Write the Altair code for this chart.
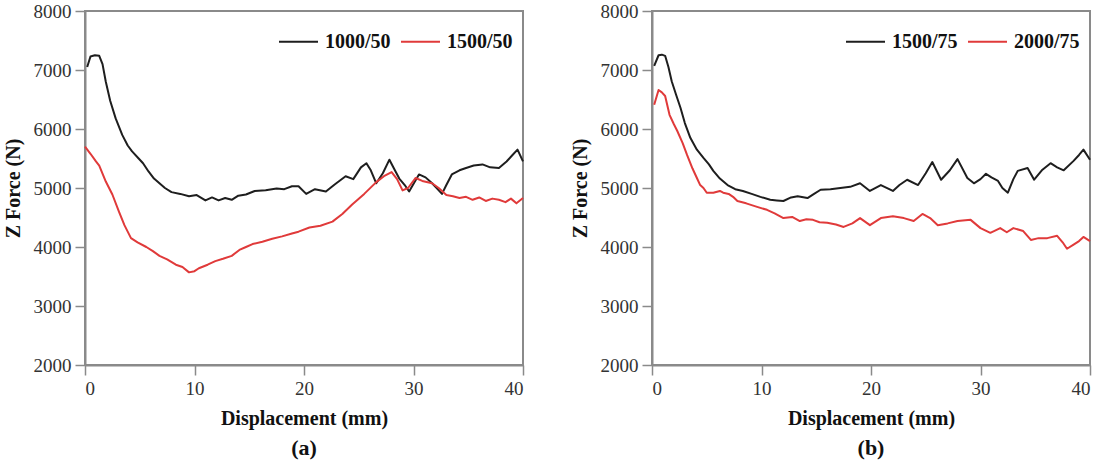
import altair as alt
import pandas as pd

# Panel (a): 1000/50 and 1500/50
a_names = ["1000/50", "1500/50"]
a1_d = [0.2, 0.5, 0.9, 1.3, 1.6,
        1.9, 2.3, 2.8, 3.4, 3.9,
        4.3, 4.9, 5.3, 5.8, 6.3,
        6.8, 7.3, 7.9, 8.7, 9.5,
        10.2, 11.0, 11.6, 12.2, 12.8,
        13.4, 14.0, 14.7, 15.5, 16.5,
        17.5, 18.2, 18.9, 19.5, 20.2,
        21.0, 22.0, 22.8, 23.8, 24.5,
        25.2, 25.7, 26.1, 26.6, 27.2,
        27.8, 28.3, 28.7, 29.2, 29.6,
        30.1, 30.5, 31.1, 31.7, 32.2,
        32.6, 33.0, 33.5, 34.2, 34.8,
        35.5, 36.3, 37.0, 37.8, 38.5,
        39.0, 39.5, 40.0]
a1_f = [7050, 7230, 7250, 7240, 7100,
        6800, 6480, 6180, 5900, 5720,
        5620, 5500, 5420, 5280, 5160,
        5080, 5000, 4930, 4900, 4860,
        4880, 4790, 4840, 4790, 4830,
        4800, 4870, 4890, 4950, 4960,
        4990, 4980, 5030, 5030, 4900,
        4980, 4940, 5060, 5200, 5150,
        5350, 5420, 5300, 5080, 5250,
        5480, 5300, 5160, 5050, 4940,
        5100, 5230, 5180, 5080, 4980,
        4900, 5050, 5230, 5300, 5340,
        5380, 5400, 5350, 5340, 5450,
        5550, 5650, 5450]
a2_d = [0.0, 0.5, 1.0, 1.3, 1.9,
        2.5, 3.1, 3.6, 4.2, 4.8,
        5.6, 6.2, 6.8, 7.5, 8.3,
        8.9, 9.5, 10.0, 10.4, 11.2,
        11.9, 12.6, 13.4, 14.1, 14.7,
        15.3, 16.2, 17.1, 18.0, 18.9,
        19.5, 20.5, 21.5, 22.6, 23.5,
        24.4, 25.5, 26.6, 27.3, 28.0,
        28.5, 29.0, 29.5, 30.2, 30.8,
        31.7, 32.3, 33.0, 33.6, 34.2,
        34.8, 35.4, 36.0, 36.6, 37.2,
        37.8, 38.4, 38.9, 39.4, 40.0]
a2_f = [5700, 5580, 5450, 5380, 5110,
        4890, 4600, 4370, 4150, 4080,
        4000, 3930, 3850, 3790, 3700,
        3660, 3570, 3590, 3640, 3700,
        3760, 3800, 3850, 3950, 4000,
        4050, 4090, 4140, 4180, 4230,
        4260, 4330, 4360, 4430, 4560,
        4720, 4900, 5100, 5200, 5270,
        5150, 4960, 5000, 5170, 5120,
        5080, 5000, 4880, 4860, 4830,
        4850, 4800, 4840, 4780, 4820,
        4800, 4760, 4820, 4740, 4830]

# Panel (b): 1500/75 and 2000/75
b_names = ["1500/75", "2000/75"]
b1_d = [0.2, 0.6, 0.9, 1.2, 1.5,
        1.8, 2.2, 2.6, 3.0, 3.5,
        4.1, 4.7, 5.2, 5.6, 6.2,
        6.9, 7.6, 8.3, 9.1, 9.9,
        10.8, 11.4, 12.0, 12.7, 13.3,
        14.2, 14.8, 15.4, 16.3, 17.2,
        18.1, 19.0, 19.9, 20.9, 22.0,
        22.6, 23.3, 24.3, 25.0, 25.6,
        26.4, 27.2, 27.9, 28.8, 29.4,
        30.0, 30.5, 31.0, 31.6, 32.0,
        32.5, 33.0, 33.4, 34.3, 34.9,
        35.6, 36.4, 37.0, 37.6, 38.5,
        39.0, 39.4, 40.0]
b1_f = [7070, 7250, 7260, 7240, 7050,
        6810, 6580, 6360, 6100, 5850,
        5650, 5510, 5400, 5290, 5160,
        5050, 4980, 4950, 4900, 4850,
        4800, 4790, 4780, 4840, 4860,
        4830, 4900, 4970, 4980, 5000,
        5020, 5080, 4950, 5050, 4950,
        5050, 5140, 5050, 5250, 5440,
        5140, 5300, 5490, 5170, 5080,
        5150, 5240, 5180, 5120, 5000,
        4920, 5150, 5290, 5340, 5140,
        5300, 5420, 5350, 5300, 5460,
        5560, 5650, 5480]
b2_d = [0.2, 0.6, 0.9, 1.2, 1.6,
        2.0, 2.3, 2.8, 3.2, 3.7,
        4.1, 4.4, 4.7, 5.0, 5.6,
        6.2, 6.5, 7.0, 7.4, 7.8,
        8.6, 9.6, 10.5, 11.2, 12.0,
        12.8, 13.5, 14.1, 14.7, 15.3,
        16.0, 16.8, 17.5, 18.3, 19.0,
        19.9, 20.9, 22.0, 23.0, 23.9,
        24.7, 25.4, 26.1, 27.0, 27.9,
        29.1, 30.0, 30.9, 31.8, 32.4,
        33.0, 33.9, 34.6, 35.3, 36.1,
        37.0, 37.5, 37.9, 38.5, 39.0,
        39.4, 40.0]
b2_f = [6410, 6660, 6620, 6560, 6240,
        6080, 5970, 5760, 5560, 5330,
        5170, 5050, 5000, 4920, 4920,
        4950, 4920, 4900, 4850, 4780,
        4740, 4680, 4630, 4570, 4490,
        4510, 4440, 4470, 4460, 4420,
        4410, 4380, 4340, 4400, 4490,
        4370, 4490, 4520, 4490, 4440,
        4560, 4490, 4370, 4400, 4440,
        4460, 4320, 4240, 4320, 4250,
        4320, 4270, 4120, 4150, 4150,
        4190, 4080, 3970, 4040, 4100,
        4170, 4100]

x_ticks = [0, 10, 20, 30, 40]
y_ticks = [2000, 3000, 4000, 5000, 6000, 7000, 8000]

SERIF = "Liberation Serif"
GRAY = "#8a8a8a"
LINE_COLORS = ["#1e1e1e", "#e03a3a"]


def frame(names, series):
    rows = []
    for name, (ds, fs) in zip(names, series):
        rows += [{"d": d, "F": f, "series": name} for d, f in zip(ds, fs)]
    return pd.DataFrame(rows)


def panel(df, names, caption):
    axis_common = dict(
        labelFont=SERIF, labelFontSize=19, labelColor="#333333",
        titleFont=SERIF, titleFontSize=20, titleFontWeight="bold",
        titleColor="#111111", domainColor=GRAY, domainWidth=2,
        tickColor=GRAY, tickWidth=1.5, tickSize=10, grid=False,
        labelPadding=4, titlePadding=10,
    )
    return alt.Chart(df).mark_line(strokeWidth=2, strokeJoin="round").encode(
        x=alt.X("d:Q",
                scale=alt.Scale(domain=[0, 40], nice=False),
                axis=alt.Axis(values=x_ticks, format="d",
                              title="Displacement (mm)", **axis_common)),
        y=alt.Y("F:Q",
                scale=alt.Scale(domain=[2000, 8000], nice=False),
                axis=alt.Axis(values=y_ticks, format="d",
                              title="Z Force (N)", **axis_common)),
        color=alt.Color("series:N",
                        scale=alt.Scale(domain=names, range=LINE_COLORS),
                        legend=alt.Legend(
                            title=None, orient="top-right",
                            direction="horizontal", symbolType="stroke",
                            symbolSize=1521, symbolStrokeWidth=2,
                            labelFont=SERIF, labelFontWeight="bold",
                            labelFontSize=20, labelColor="#111111",
                            labelOffset=6, columnPadding=6, padding=0,
                            offset=10)),
    ).properties(
        width=438, height=354,
        title=alt.TitleParams(caption, orient="bottom", anchor="middle",
                              font=SERIF, fontSize=22, fontWeight="bold",
                              color="#111111", offset=10),
    )


left = panel(frame(a_names, [(a1_d, a1_f), (a2_d, a2_f)]), a_names, "(a)")
right = panel(frame(b_names, [(b1_d, b1_f), (b2_d, b2_f)]), b_names, "(b)")

chart = alt.hconcat(left, right, spacing=44).resolve_scale(
    color="independent"
).properties(
    padding={"left": 2, "top": 1, "right": 5, "bottom": 0},
    background="white",
).configure_view(stroke=GRAY, strokeWidth=2)

chart.save("out.html", embed_options={"renderer": "svg", "actions": False})
